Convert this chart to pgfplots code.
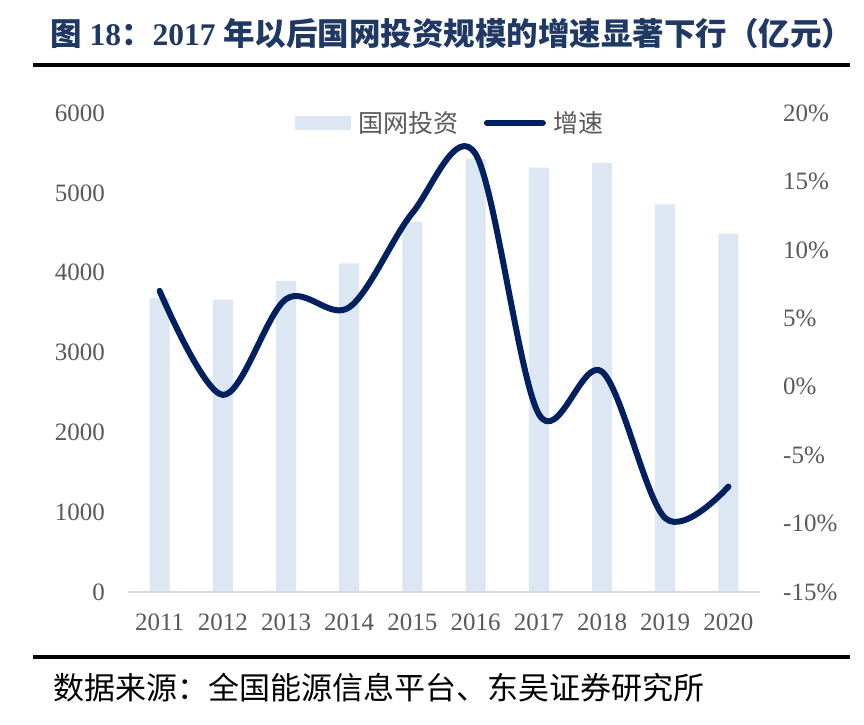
\documentclass[border=0pt]{standalone}
\usepackage{fontspec}
\setmainfont{Liberation Serif}
\newfontfamily\cjk{Noto Sans CJK SC}
\usepackage{pgfplots}
\pgfplotsset{compat=1.18}

\definecolor{barblue}{RGB}{221,231,244}
\definecolor{navy}{RGB}{0,32,96}
\definecolor{titlenavy}{RGB}{31,56,100}
\definecolor{labelgray}{RGB}{89,89,89}
\definecolor{axisgray}{RGB}{217,217,217}
\newcommand\px[1]{\fontsize{#1}{#1}\selectfont}

\pgfplotsset{
  base/.style={
    at={(128pt,132pt)}, anchor=south west,
    width=632pt, height=479pt, scale only axis,
    xmin=-0.5, xmax=9.5,
    axis line style={draw=none},
    tick style={draw=none},
    major tick length=0pt,
    tick label style={font=\px{25}, text=labelgray, inner sep=0pt},
  },
}

\begin{document}
\begin{tikzpicture}[x=1pt,y=1pt]
\useasboundingbox (0,0) rectangle (864,724);
\fill[white] (0,0) rectangle (864,724);

% title and rules
\node[anchor=west, text=titlenavy, font=\bfseries\px{31.5}, inner sep=0pt] at (50,690)
  {{\cjk 图} 18{\cjk ：}2017 {\cjk 年以后国网投资规模的增速显著下行（亿元）}};
\draw[line width=4pt] (33,659.3) -- (850,659.3);
\draw[line width=4pt] (33,67) -- (850,67);
\node[anchor=west, font=\cjk\px{31}, inner sep=0pt] at (53,36)
  {数据来源：全国能源信息平台、东吴证券研究所};

% investment bars (left axis)
\begin{axis}[base,
  ymin=0, ymax=6000,
  xtick={0,...,9},
  xticklabels={2011,2012,2013,2014,2015,2016,2017,2018,2019,2020},
  xticklabel style={anchor=center, yshift=-30pt},
  ytick={0,1000,...,6000},
  yticklabels={0,1000,2000,3000,4000,5000,6000},
  yticklabel style={anchor=east, xshift=-23pt},
]
\addplot[ybar, bar width=20pt, fill=barblue, draw=none] coordinates {
  (0,3682) (1,3661) (2,3894) (3,4118) (4,4640)
  (5,5426) (6,5315) (7,5373) (8,4856) (9,4490)};
\draw[axisgray, line width=2.5pt] (axis cs:-0.5,0) -- (axis cs:9.5,0);
\end{axis}

% growth line (right axis)
\begin{axis}[base,
  ymin=-15, ymax=20,
  xtick=\empty,
  ytick={-15,-10,...,20},
  yticklabels={-15\%,-10\%,-5\%,0\%,5\%,10\%,15\%,20\%},
  yticklabel pos=right,
  yticklabel style={anchor=west, xshift=23pt},
  legend columns=2,
  legend style={at={(0.509,0.979)}, anchor=center, draw=none, fill=none,
    font=\cjk\px{25}, text=labelgray, nodes={inner sep=0pt},
    /tikz/every odd column/.append style={column sep=8pt},
    /tikz/every even column/.append style={column sep=25pt}},
]
\addlegendimage{legend image code/.code={\fill[barblue] (0pt,-6.5pt) rectangle (55pt,6.5pt);}}
\addlegendentry{国网投资}
\addplot[navy, line width=6pt, line cap=round, line join=round, smooth, tension=0.55,
  legend image code/.code={\draw[navy, line width=6pt, line cap=round] (3pt,0pt) -- (59pt,0pt);}]
  coordinates {
  (0,7.0) (1,-0.6) (2,6.4) (3,5.8) (4,12.7)
  (5,17.0) (6,-2.0) (7,1.1) (8,-9.6) (9,-7.3)};
\addlegendentry{增速}
\end{axis}
\end{tikzpicture}
\end{document}
